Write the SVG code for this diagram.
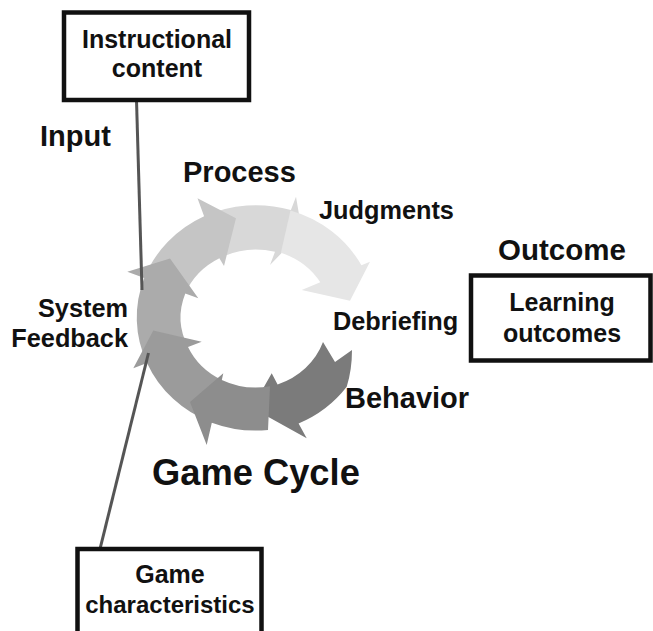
<svg xmlns="http://www.w3.org/2000/svg" width="653" height="631" viewBox="0 0 653 631">
  <style>
    .box { fill: #ffffff; stroke: #111111; stroke-width: 4.5; }
    .t { font-family: "Liberation Sans", Arial, sans-serif; font-weight: bold; fill: #111111; }
    .head { font-size: 29px; }
    .lbl { font-size: 25.3px; }
    .boxt { font-size: 25px; text-anchor: middle; }
    .conn { stroke: #555555; stroke-width: 3; fill: none; stroke-linecap: butt; }
  </style>
  <rect width="653" height="631" fill="#ffffff"/>

  <g id="game-cycle">
    <path id="seg-behavior" fill="#7b7b7b" d="M 352,350 Q 352,370 346.7,386.7 A 119.5 112.5 0 0 1 298.6,423.4 L 306.7,438.3 L 252,408 L 271.7,373.3 L 277.6,384.4 A 75 69 0 0 0 323,342 L 335,362 Z"/>
    <path id="seg-top" fill="#d8d8d8" d="M 204.1,216.3 A 119.5 112.5 0 0 1 290.9,210.1 L 296,196.7 L 302,232 L 270,265 L 275,251.8 A 75 69 0 0 0 219.4,258.3 Z"/>
    <path id="seg-judgments" fill="#e6e6e6" d="M 290.5,210.4 A 119.5 112.5 0 0 1 361.4,265.3 L 370,261.7 L 350,300.7 L 301.7,290 L 320.3,282.3 A 75 69 0 0 0 280.9,252.8 Z"/>
    <path id="seg-process" fill="#c5c5c5" d="M 144.3,278.1 A 119.5 112.5 0 0 1 204.1,216.3 L 197.5,198.3 L 236,218.3 L 224,266 L 219.4,258.3 A 75 69 0 0 0 185.3,293.5 Z"/>
    <path id="seg-feedback" fill="#ababab" d="M 147,363 A 119.5 112.5 0 0 1 144.3,278.1 L 127.3,271.7 L 170,258.5 L 198.3,298.3 L 185.3,293.5 A 75 69 0 0 0 188,347 Z"/>
    <path id="seg-lowerleft" fill="#9b9b9b" d="M 211.8,422.7 A 119.5 112.5 0 0 1 147,363 L 133.3,368.3 L 153.3,330.5 L 201.7,341.7 L 188,347 A 75 69 0 0 0 221.8,380 Z"/>
    <path id="seg-bottom" fill="#8d8d8d" d="M 268,430 A 119.5 112.5 0 0 1 211.8,422.7 L 206.7,445 L 190,402 L 223.3,373.3 L 221.8,380 A 75 69 0 0 0 270,386.3 Z"/>
  </g>

  <g id="connectors">
    <line class="conn" x1="136.5" y1="100" x2="142" y2="290"/>
    <line class="conn" x1="148.5" y1="353" x2="100" y2="549"/>
  </g>

  <g id="instructional-content">
    <rect class="box" x="64" y="12.5" width="185" height="87.5"/>
    <text class="t boxt" x="157" y="48">Instructional</text>
    <text class="t boxt" x="157" y="77">content</text>
  </g>

  <g id="learning-outcomes">
    <rect class="box" x="471" y="275.5" width="179.5" height="85"/>
    <text class="t boxt" x="562" y="311">Learning</text>
    <text class="t boxt" x="562" y="342">outcomes</text>
  </g>

  <g id="game-characteristics">
    <rect class="box" x="77.5" y="549" width="184" height="100"/>
    <text class="t boxt" x="170" y="583">Game</text>
    <text class="t boxt" x="170" y="613" style="font-size:24px">characteristics</text>
  </g>

  <g id="labels">
    <text class="t head" x="40" y="146">Input</text>
    <text class="t head" x="183" y="182">Process</text>
    <text class="t lbl" x="319" y="218.5">Judgments</text>
    <text class="t head" x="498" y="260" style="font-size:29.5px">Outcome</text>
    <text class="t lbl" x="128" y="316.7" text-anchor="end">System</text>
    <text class="t lbl" x="128" y="346.7" text-anchor="end">Feedback</text>
    <text class="t lbl" x="333" y="330">Debriefing</text>
    <text class="t head" x="345" y="408">Behavior</text>
    <text class="t" x="152" y="485" style="font-size:36.3px">Game Cycle</text>
  </g>
</svg>
